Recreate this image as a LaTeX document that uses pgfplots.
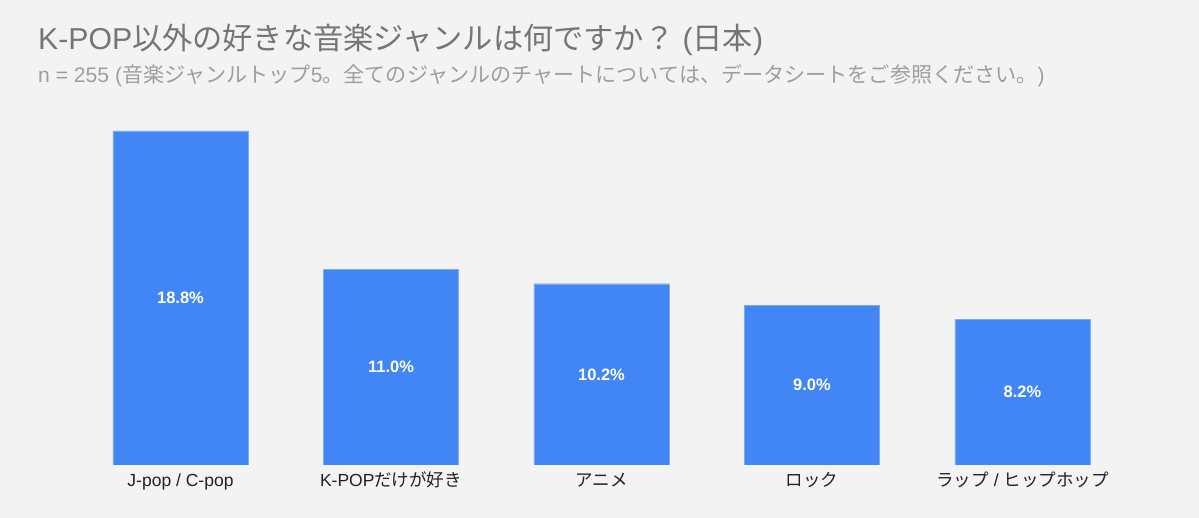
\documentclass[border=0pt]{standalone}
\usepackage{pgfplots}
\pgfplotsset{compat=1.18}
\usepackage{fontspec}
\setmainfont{Liberation Sans}
\newfontfamily\jp{Noto Sans CJK JP}
\definecolor{bg}{HTML}{F3F3F3}
\definecolor{barc}{HTML}{4285F4}
\definecolor{titlec}{HTML}{757575}
\definecolor{subc}{HTML}{9E9E9E}
\definecolor{tickc}{HTML}{222222}
\begin{document}
\begin{tikzpicture}[x=1pt,y=1pt]
\fill[bg] (0,0) rectangle (1199,518);
\useasboundingbox (0,0) rectangle (1199,518);
\node[anchor=base west, text=titlec, font=\fontsize{30.2}{34}\selectfont, inner sep=0] at (38,518-50) {K-POP{\jp 以外の好きな音楽ジャンルは何ですか？} ({\jp 日本})};
\node[anchor=base west, text=subc, font=\fontsize{21.1}{24}\selectfont, inner sep=0] at (38,518-83) {n = 255 ({\jp 音楽ジャンルトップ}5{\jp 。全てのジャンルのチャートについては、データシートをご参照ください。})};
\begin{axis}[
  at={(75.25pt,53pt)}, anchor=south west,
  scale only axis, width=1052.5pt, height=355.4pt,
  xmin=-0.5, xmax=4.5, ymin=0, ymax=20,
  axis line style={draw=none},
  ytick=\empty,
  xtick=data, major tick length=0pt,
  xticklabels={J-pop / C-pop, K-POP{\jp だけが好き}, {\jp アニメ}, {\jp ロック}, {\jp ラップ} / {\jp ヒップホップ}},
  xticklabel style={text=tickc, font=\fontsize{17.5}{20}\selectfont, anchor=base, yshift=-22pt},
  ybar, bar width=135pt,
  visualization depends on=rawy/2 \as \halfy,
  nodes near coords={\pgfmathprintnumber[fixed,fixed zerofill,precision=1,assume math mode=true]{\pgfplotspointmeta}\%},
  nodes near coords style={text=white, font=\bfseries\fontsize{16.5}{20}\selectfont, anchor=center, shift={(axis direction cs:0,-\halfy)}},
]
\addplot[fill=barc, draw=barc!70!white] coordinates {(0,18.8) (1,11.0) (2,10.2) (3,9.0) (4,8.2)};
\end{axis}
\end{tikzpicture}
\end{document}
